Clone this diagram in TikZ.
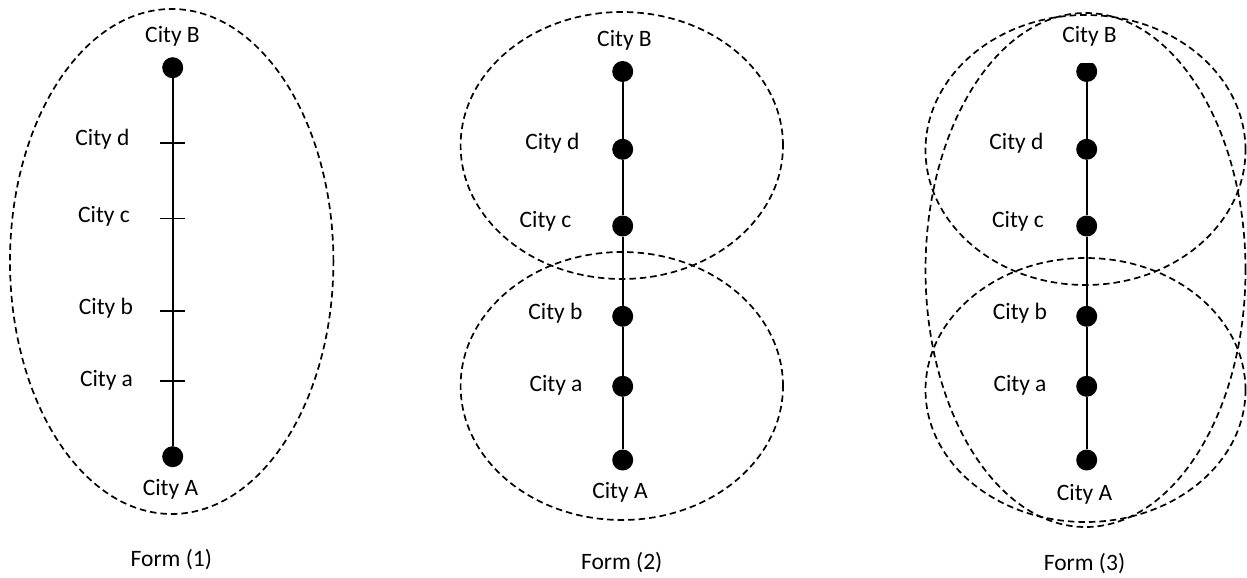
\documentclass[tikz,border=0pt]{standalone}
\usepackage{fontspec}
\setmainfont{Carlito}
\begin{document}
\begin{tikzpicture}[x=1pt,y=-1pt,
  dot/.style={circle,fill=black,inner sep=0pt,minimum size=21pt},
  lbl/.style={inner sep=0pt,font=\fontsize{23.5}{28}\selectfont},
  region/.style={draw=black,line width=1.7pt,dash pattern=on 6.5pt off 4pt},
  road/.style={line width=2.2pt},
  tickmark/.style={line width=1.8pt}]
\fill[white] (0,0) rectangle (1247,578);
\useasboundingbox (0,0) rectangle (1247,578);

% ---------- Form (1) ----------
\draw[region] (171.7,261.5) ellipse [x radius=161.7pt, y radius=252.5pt];
\node[dot] (B1) at (172.7,67.7) {};
\node[dot] (A1) at (172.7,456.7) {};
\coordinate (d1) at (172.7,142.8);
\coordinate (c1) at (172.7,218.5);
\coordinate (b1) at (172.7,311);
\coordinate (a1) at (172.7,380.8);
\draw[road] (B1) -- (A1);
\foreach \t in {d1,c1,b1,a1}
  \draw[tickmark] ([xshift=-12.5pt]\t) -- ([xshift=12.5pt]\t);
\node[lbl] (lB1) at (172.5,36) {City B};
\node[lbl] (ld1) at (102.5,139.5) {City d};
\node[lbl] (lc1) at (104,216) {City c};
\node[lbl] (lb1) at (106,308) {City b};
\node[lbl] (la1) at (106.5,380) {City a};
\node[lbl] (lA1) at (170.5,489) {City A};
\node[lbl] (f1) at (171.3,560) {Form (1)};

% ---------- Form (2) ----------
\draw[region] (621.8,145.5) ellipse [x radius=161.2pt, y radius=133.5pt];
\draw[region] (621.8,386) ellipse [x radius=161.2pt, y radius=134pt];
\node[dot] (B2) at (622.7,71.5) {};
\node[dot] (d2) at (622.7,149.3) {};
\node[dot] (c2) at (622.7,226) {};
\node[dot] (b2) at (622.7,316.3) {};
\node[dot] (a2) at (622.7,386.3) {};
\node[dot] (A2) at (622.7,460) {};
\draw[road] (B2) -- (d2) -- (c2) -- (b2) -- (a2) -- (A2);
\node[lbl] (lB2) at (624.5,40.7) {City B};
\node[lbl] (ld2) at (552.5,143.7) {City d};
\node[lbl] (lc2) at (545.5,221.5) {City c};
\node[lbl] (lb2) at (555.5,313) {City b};
\node[lbl] (la2) at (556,385) {City a};
\node[lbl] (lA2) at (620,492.7) {City A};
\node[lbl] (f2) at (621.7,563) {Form (2)};

% ---------- Form (3) ----------
\draw[region] (1085.5,270) ellipse [x radius=160pt, y radius=257pt];
\draw[region] (1085.5,150) ellipse [x radius=160pt, y radius=135pt];
\draw[region] (1085.5,390) ellipse [x radius=160pt, y radius=132pt];
\begin{scope}
  \clip (1070,63.3) rectangle (1105,90);
  \node[dot] (B3) at (1086.7,71.5) {};
\end{scope}
\node[dot] (d3) at (1086.7,149.3) {};
\node[dot] (c3) at (1086.7,226) {};
\node[dot] (b3) at (1086.7,316.3) {};
\node[dot] (a3) at (1086.7,386.3) {};
\node[dot] (A3) at (1086.7,460) {};
\draw[road] (B3) -- (d3) -- (c3) -- (b3) -- (a3) -- (A3);
\node[lbl] (lB3) at (1089.5,36.5) {City B};
\node[lbl] (ld3) at (1016.5,143.7) {City d};
\node[lbl] (lc3) at (1018,221) {City c};
\node[lbl] (lb3) at (1020,313) {City b};
\node[lbl] (la3) at (1020,385) {City a};
\node[lbl] (lA3) at (1084.5,494) {City A};
\node[lbl] (f3) at (1084.5,564) {Form (3)};
\end{tikzpicture}
\end{document}
